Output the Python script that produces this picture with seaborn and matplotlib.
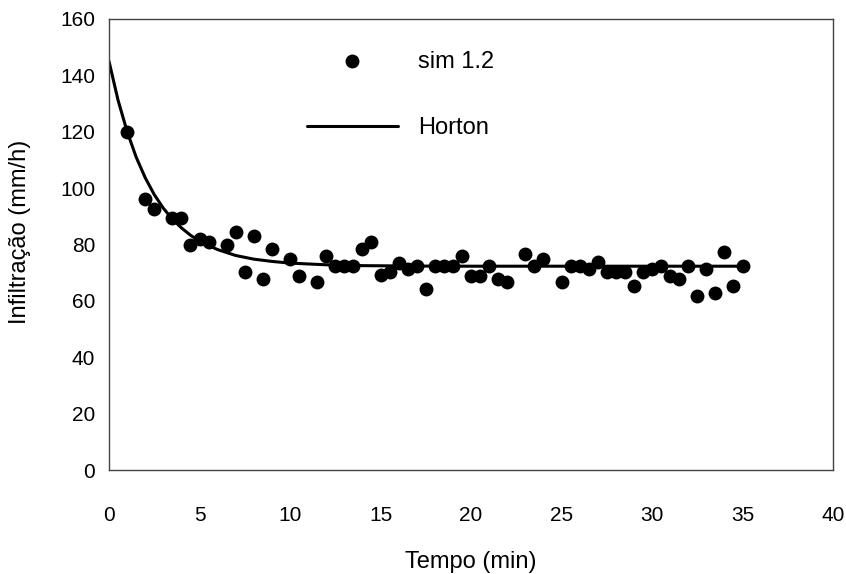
import matplotlib
matplotlib.use("Agg")
import matplotlib.pyplot as plt
import seaborn as sns
import pandas as pd
from matplotlib import font_manager

# ---- data ----
tempo = [1.0, 2.0, 2.5, 3.5, 4.0, 4.5, 5.0, 5.5, 6.5, 7.0, 7.5, 8.0, 8.5, 9.0,
         10.0, 10.5, 11.5, 12.0, 12.5, 13.0, 13.5, 14.0, 14.5, 15.0, 15.5, 16.0,
         16.5, 17.0, 17.5, 18.0, 18.5, 19.0, 19.5, 20.0, 20.5, 21.0, 21.5, 22.0,
         23.0, 23.5, 24.0, 25.0, 25.5, 26.0, 26.5, 27.0, 27.5, 28.0, 28.5, 29.0,
         29.5, 30.0, 30.5, 31.0, 31.5, 32.0, 32.5, 33.0, 33.5, 34.0, 34.5, 35.0]
infiltracao = [120.0, 96.1, 92.6, 89.4, 89.4, 79.8, 81.8, 80.9, 79.8, 84.4, 70.2, 83.0,
               67.7, 78.4, 74.8, 68.8, 66.7, 75.9, 72.3, 72.3, 72.3, 78.4, 80.9, 69.1,
               70.2, 73.4, 71.3, 72.3, 64.2, 72.3, 72.3, 72.3, 75.9, 68.8, 68.8, 72.3,
               67.7, 66.7, 76.6, 72.3, 74.8, 66.7, 72.3, 72.3, 71.3, 73.8, 70.2, 70.2,
               70.2, 65.2, 70.2, 71.3, 72.3, 68.8, 67.7, 72.3, 61.7, 71.3, 62.8, 77.3,
               65.2, 72.3]

# Horton curve
horton_t = [0, 0.5, 1, 1.5, 2, 2.5, 3, 3.5, 4, 4.5, 5, 6, 7, 8, 9, 10, 12, 14, 17, 20, 25, 30, 35]
horton_f = [145.0, 131.2, 120.1, 111.0, 103.7, 97.7, 92.9, 89.0, 85.9, 83.3, 81.2, 78.2,
            76.1, 74.8, 74.0, 73.4, 72.8, 72.5, 72.35, 72.3, 72.3, 72.3, 72.3]

x_ticks = [0, 5, 10, 15, 20, 25, 30, 35, 40]
y_ticks = [0, 20, 40, 60, 80, 100, 120, 140, 160]

sns.set_style("white")
names = {f.name for f in font_manager.fontManager.ttflist}
fam = ["Liberation Sans Narrow", "Liberation Sans", "DejaVu Sans"]
fam = [f for f in fam if f in names] + ["DejaVu Sans"]
plt.rcParams["font.family"] = fam
plt.rcParams["text.color"] = "black"
plt.rcParams["axes.labelcolor"] = "black"

fig = plt.figure(figsize=(8.46, 5.74), dpi=100)
ax = fig.add_axes([109/846, 1 - 470/574, (833-109)/846, (470-19)/574])

df_pts = pd.DataFrame({"t": tempo, "f": infiltracao})
df_h = pd.DataFrame({"t": horton_t, "f": horton_f})

sns.lineplot(data=df_h, x="t", y="f", ax=ax, color="black", linewidth=2.2,
             label="Horton", zorder=2)
sns.scatterplot(data=df_pts, x="t", y="f", ax=ax, color="black", s=100,
                edgecolor="black", linewidth=0, label="sim 1.2", zorder=3)

ax.set_xlim(0, 40)
ax.set_ylim(0, 160)
ax.set_xticks(x_ticks)
ax.set_yticks(y_ticks)
ax.set_xticklabels([str(v) for v in x_ticks])
ax.set_yticklabels([str(v) for v in y_ticks])
ax.tick_params(axis="both", direction="in", length=6, width=1, color="#555555",
               labelsize=15, labelcolor="black")
ax.tick_params(axis="x", pad=26)
ax.tick_params(axis="y", pad=10)
for sp in ax.spines.values():
    sp.set_visible(True)
    sp.set_color("#444444")
    sp.set_linewidth(1.0)

ax.set_xlabel("Tempo (min)", fontsize=17, va="center")
ax.xaxis.set_label_coords(0.5, -(562 - 470) / 451)
ax.set_ylabel("Infiltração (mm/h)", fontsize=17, va="center")
ax.yaxis.set_label_coords((20 - 109) / 724, (470 - 232) / 451)

handles, labels = ax.get_legend_handles_labels()
order = [labels.index("sim 1.2"), labels.index("Horton")]
leg = ax.legend([handles[i] for i in order], [labels[i] for i in order],
                loc="upper left", bbox_to_anchor=(0.244, 0.977), frameon=False,
                fontsize=17, handlelength=3.85, labelspacing=1.9, handletextpad=0.85,
                markerscale=1.0)

fig.savefig("out.png", dpi=100)
